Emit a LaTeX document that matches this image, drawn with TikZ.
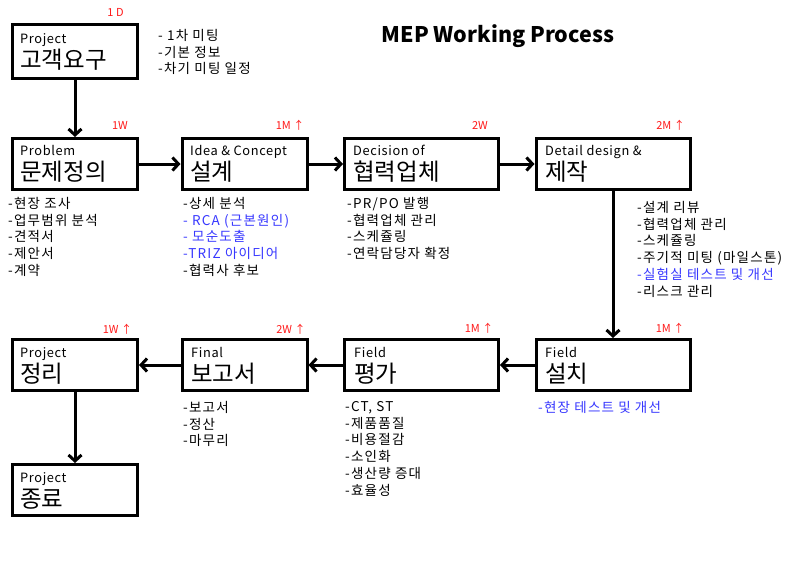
\documentclass[tikz,border=0pt]{standalone}
\usepackage{fontspec}
\setmainfont{Noto Sans CJK KR}
\newfontfamily\notefont[LetterSpace=9]{Noto Sans CJK KR}
\newfontfamily\labfont[LetterSpace=5]{Noto Sans CJK KR}
\usetikzlibrary{arrows.meta}
\definecolor{myred}{RGB}{255,25,25}
\definecolor{myblue}{RGB}{55,55,255}
\begin{document}
\begin{tikzpicture}[x=1pt,y=-1pt,
  box/.style={draw, line width=3pt, inner sep=0pt, minimum height=51pt},
  sbox/.style={box, minimum width=125pt},
  wbox/.style={box, minimum width=154pt},
  small/.style={font=\labfont\fontsize{12.8}{14}\selectfont, inner sep=0pt, anchor=base west},
  big/.style={font=\fontsize{23.5}{26}\selectfont, inner sep=0pt, anchor=base west},
  note/.style={font=\notefont\fontsize{13.5}{16.8}\selectfont, inner sep=0pt, anchor=north west, align=left},
  dur/.style={font=\fontsize{11}{13}\selectfont, text=myred, inner sep=0pt},
  flow/.style={line width=3pt, -{Straight Barb[length=6pt,width=13pt]}},
  title/.style={font=\fontsize{21.5}{24}\selectfont\bfseries, inner sep=0pt, anchor=base}
]
\fill[white] (0,0) rectangle (800,582);
\useasboundingbox (0,0) rectangle (800,582);

% title
\node[title] (ttl) at (498,42) {MEP Working Process};

% boxes
\node[sbox, minimum height=54pt] (b1) at (75,51.5) {};
\node[sbox] (b2) at (75,164) {};
\node[sbox] (b3) at (244.5,164) {};
\node[wbox] (b4) at (421.5,164) {};
\node[wbox] (b5) at (613,164) {};
\node[wbox] (b6) at (613,365) {};
\node[wbox] (b7) at (421.5,365) {};
\node[sbox] (b8) at (244.5,365) {};
\node[sbox] (b9) at (75,365) {};
\node[sbox] (b10) at (75,490) {};

% box texts
\node[small] (s1) at (20,43) {Project};
\node[big] (g1) at (20,68) {고객요구};
\node[small] (s2) at (20,155) {Problem};
\node[big] (g2) at (20,180) {문제정의};
\node[small] (s3) at (190,155) {Idea \& Concept};
\node[big] (g3) at (190,180) {설계};
\node[small] (s4) at (353,155) {Decision of};
\node[big] (g4) at (353,180) {협력업체};
\node[small] (s5) at (545,155) {Detail design \&};
\node[big] (g5) at (545,180) {제작};
\node[small] (s6) at (545,357) {Field};
\node[big] (g6) at (545,382) {설치};
\node[small] (s7) at (354,357) {Field};
\node[big] (g7) at (354,382) {평가};
\node[small] (s8) at (191,357) {Final};
\node[big] (g8) at (191,382) {보고서};
\node[small] (s9) at (20,357) {Project};
\node[big] (g9) at (20,382) {정리};
\node[small] (s10) at (20,482) {Project};
\node[big] (g10) at (20,507) {종료};

% durations
\node[dur] (d1) at (115.5,12.5) {1 D};
\node[dur] (d2) at (120,125.5) {1W};
\node[dur] (d3) at (290,125.5) {1M ↑};
\node[dur] (d4) at (480,125.5) {2W};
\node[dur] (d5) at (670.5,125.5) {2M ↑};
\node[dur] (d6) at (670,328) {1M ↑};
\node[dur] (d7) at (479,328) {1M ↑};
\node[dur] (d8) at (291,329) {2W ↑};
\node[dur] (d9) at (117.5,329) {1W ↑};

% notes
\node[note] (n1) at (158,29) {- 1차 미팅\\-기본 정보\\-차기 미팅 일정};
\node[note] (n2) at (8,197) {-현장 조사\\-업무범위 분석\\-견적서\\-제안서\\-계약};
\node[note] (n3) at (183,197) {-상세 분석\\\textcolor{myblue}{- RCA (근본원인)}\\\textcolor{myblue}{- 모순도출}\\\textcolor{myblue}{-TRIZ 아이디어}\\-협력사 후보};
\node[note] (n4) at (347,197) {-PR/PO 발행\\-협력업체 관리\\-스케쥴링\\-연락담당자 확정};
\node[note] (n5) at (637,201) {-설계 리뷰\\-협력업체 관리\\-스케쥴링\\-주기적 미팅 (마일스톤)\\\textcolor{myblue}{-실험실 테스트 및 개선}\\-리스크 관리};
\node[note, text=myblue] (n6) at (538,401) {-현장 테스트 및 개선};
\node[note] (n7) at (345,401) {-CT, ST\\-제품품질\\-비용절감\\-소인화\\-생산량 증대\\-효율성};
\node[note] (n8) at (183,401) {-보고서\\-정산\\-마무리};

% connectors
\draw[flow] (b1) -- (b2);
\draw[flow] (b2) -- (b3);
\draw[flow] (b3) -- (b4);
\draw[flow] (b4) -- (b5);
\draw[flow] (b5) -- (b6);
\draw[flow] (b6) -- (b7);
\draw[flow] (b7) -- (b8);
\draw[flow] (b8) -- (b9);
\draw[flow] (b9) -- (b10);
\end{tikzpicture}
\end{document}
